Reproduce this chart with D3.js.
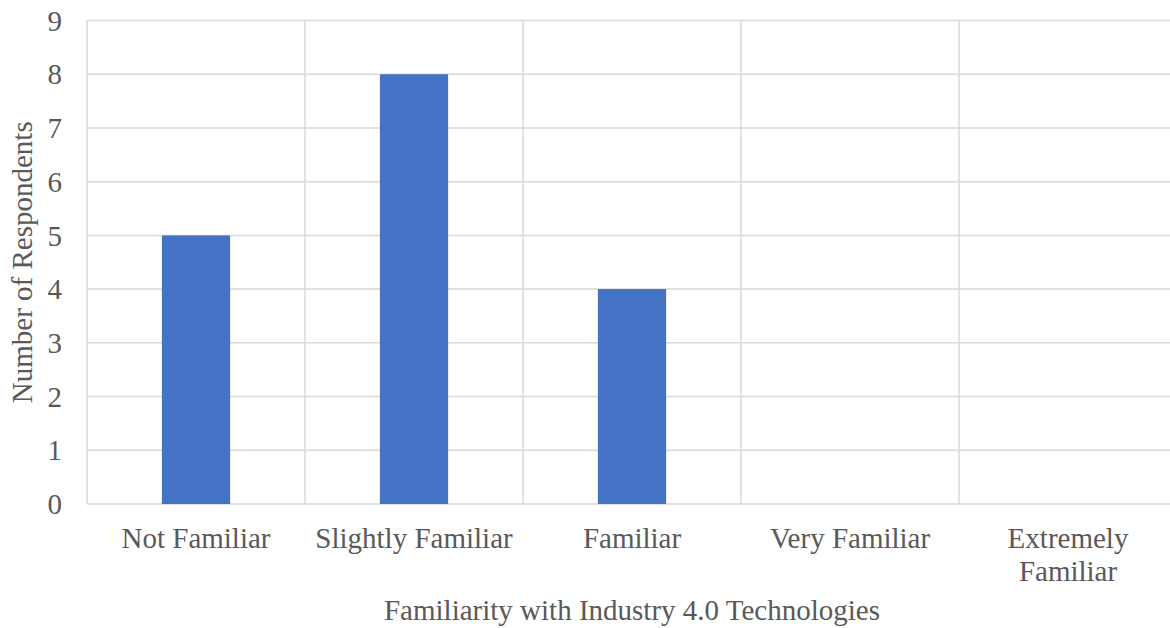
<!DOCTYPE html>
<html>
<head>
<meta charset="utf-8">
<script src="https://cdn.jsdelivr.net/npm/d3@7"></script>
<style>
  body { margin: 0; background: #fff; overflow: hidden; }
  text { font-family: "Liberation Serif", "Times New Roman", serif; fill: #595959; }
</style>
</head>
<body>
<svg id="chart" width="1170" height="628"></svg>
<script>
// data
var categories = ['Not Familiar', 'Slightly Familiar', 'Familiar', 'Very Familiar', 'Extremely Familiar'];
var respondents = [5, 8, 4, 0, 0];
var yTicks = [0, 1, 2, 3, 4, 5, 6, 7, 8, 9];

var fontSize = '29px';
var svg = d3.select('#chart');
var margin = { left: 87, top: 20.5, right: -7, bottom: 124 };
var width = 1170 - margin.left - margin.right,
  height = 628 - margin.top - margin.bottom;

var g = svg.append('g').attr('transform', 'translate(' + margin.left + ',' + margin.top + ')');

var x = d3.scaleBand().domain(categories).range([0, width]).paddingInner(0).paddingOuter(0);
var y = d3.scaleLinear().domain([0, 9]).range([height, 0]);

// horizontal gridlines
g.selectAll('.hgrid')
  .data(yTicks)
  .enter()
  .append('line')
  .attr('x1', 0)
  .attr('x2', width)
  .attr('y1', (d) => y(d))
  .attr('y2', (d) => y(d))
  .attr('stroke', '#d9d9d9')
  .attr('stroke-width', 1.5);

// vertical gridlines at category boundaries
g.selectAll('.vgrid')
  .data(categories)
  .enter()
  .append('line')
  .attr('x1', (d) => x(d))
  .attr('x2', (d) => x(d))
  .attr('y1', 0)
  .attr('y2', height)
  .attr('stroke', '#d9d9d9')
  .attr('stroke-width', 1.5);

// bars
var barW = x.bandwidth() * 0.313;
g.selectAll('rect')
  .data(categories)
  .enter()
  .append('rect')
  .attr('x', (d) => x(d) + (x.bandwidth() - barW) / 2)
  .attr('y', (d, i) => y(respondents[i]))
  .attr('width', barW)
  .attr('height', (d, i) => height - y(respondents[i]))
  .attr('fill', '#4472c4');

// y tick labels
g.selectAll('.ylab')
  .data(yTicks)
  .enter()
  .append('text')
  .attr('x', -25)
  .attr('y', (d) => y(d))
  .attr('dy', '0.35em')
  .attr('text-anchor', 'end')
  .style('font-size', fontSize)
  .text((d) => d);

// category labels, wrapped like Excel does
var wrapWidth = x.bandwidth() - 10;
g.selectAll('.xlab')
  .data(categories)
  .enter()
  .append('text')
  .attr('text-anchor', 'middle')
  .style('font-size', fontSize)
  .attr('transform', (d) => 'translate(' + (x(d) + x.bandwidth() / 2) + ',' + (height + 44) + ')')
  .each(function (d) {
    var t = d3.select(this);
    var words = d.split(' ');
    var lines = [], cur = '';
    var probe = t.append('tspan');
    words.forEach(function (w) {
      var test = cur ? cur + ' ' + w : w;
      probe.text(test);
      if (probe.node().getComputedTextLength() > wrapWidth && cur) {
        lines.push(cur);
        cur = w;
      } else {
        cur = test;
      }
    });
    lines.push(cur);
    probe.remove();
    lines.forEach(function (l, i) {
      t.append('tspan').attr('x', 0).attr('y', i * 32.5).text(l);
    });
  });

// axis titles
svg.append('text')
  .attr('x', margin.left + 545)
  .attr('y', 620)
  .attr('text-anchor', 'middle')
  .style('font-size', fontSize)
  .text('Familiarity with Industry 4.0 Technologies');

svg.append('text')
  .attr('transform', 'translate(32,' + (margin.top + height / 2) + ') rotate(-90)')
  .attr('text-anchor', 'middle')
  .style('font-size', fontSize)
  .text('Number of Respondents');
</script>
</body>
</html>
